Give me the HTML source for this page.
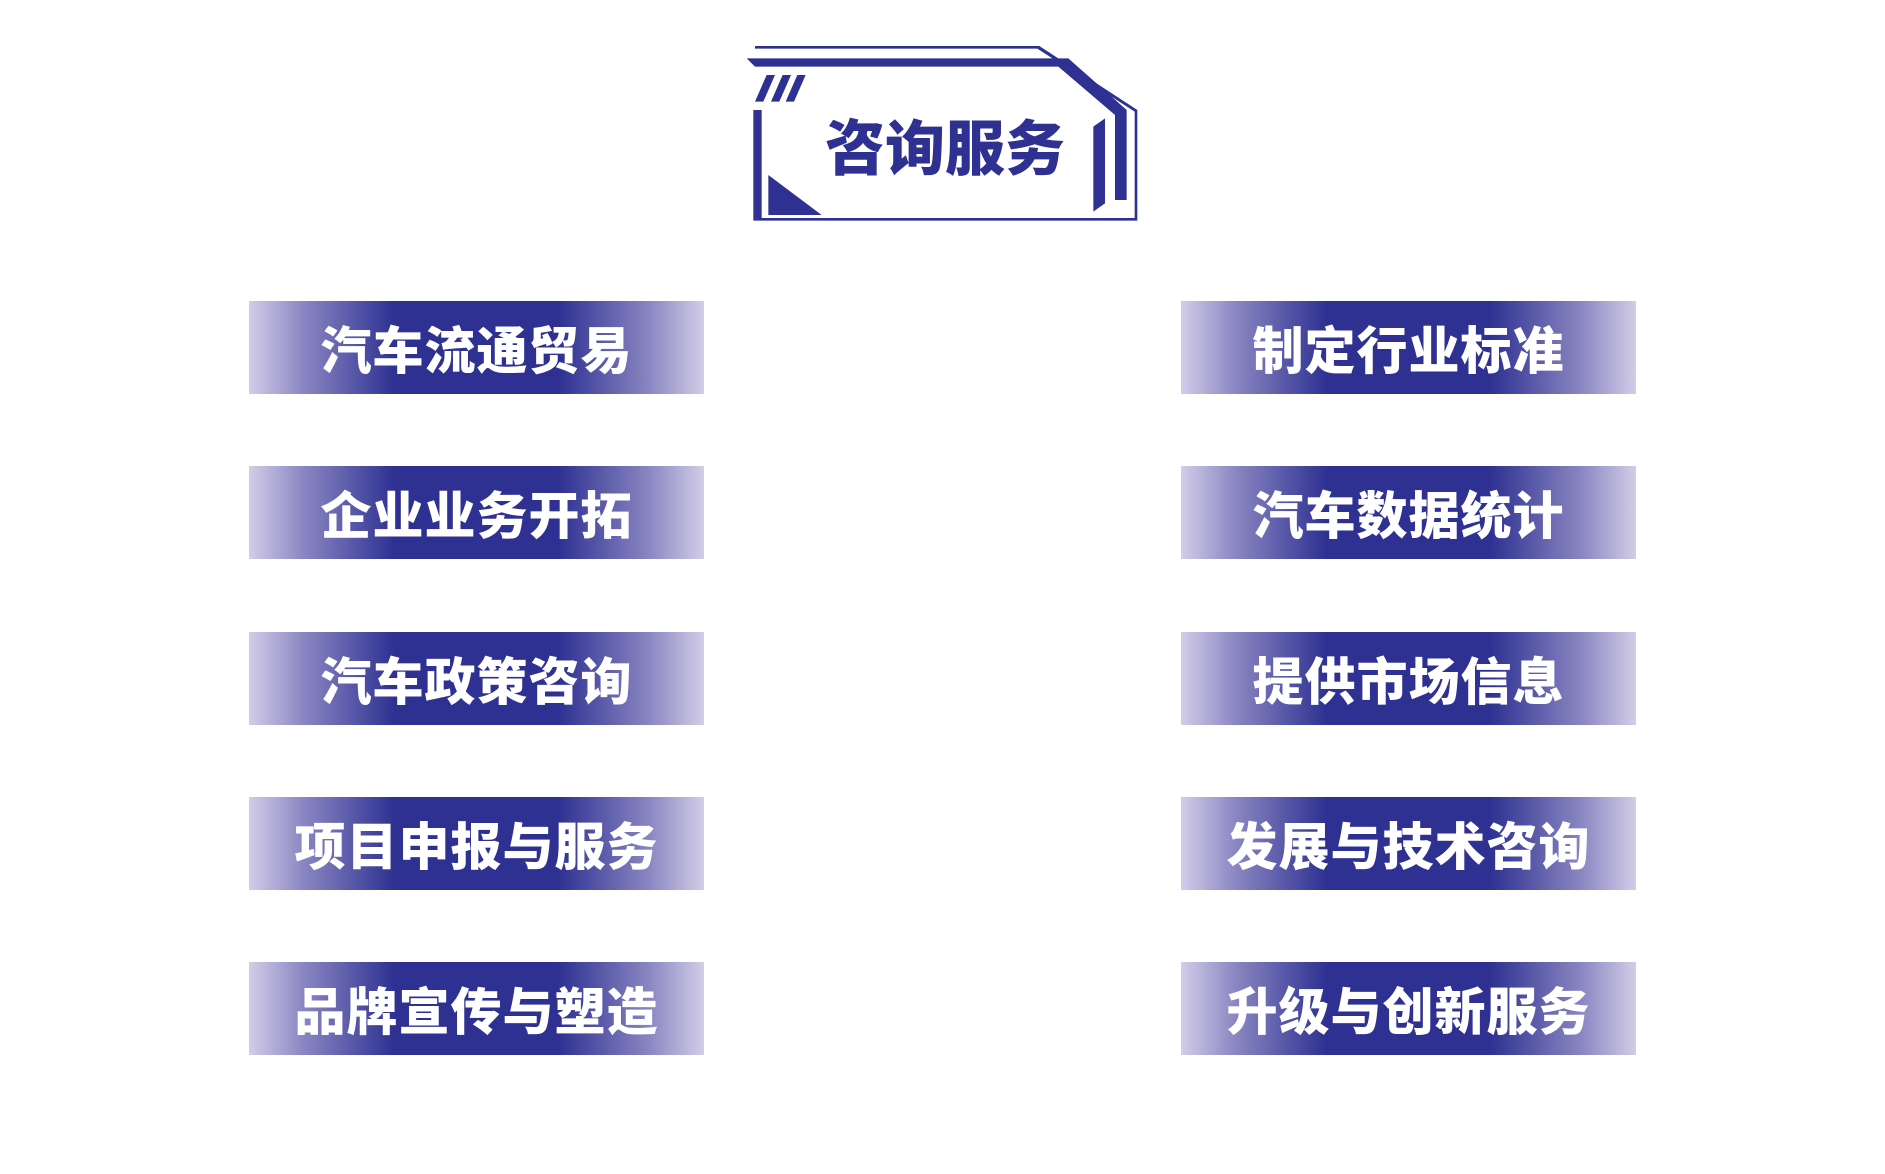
<!DOCTYPE html>
<html><head><meta charset="utf-8"><style>
body{margin:0;width:1885px;height:1174px;background:#fff;position:relative;overflow:hidden;font-family:"Liberation Sans","Noto Sans CJK SC",sans-serif}
.b{position:absolute;width:455px;height:93px;background:linear-gradient(90deg,#d2cde8 0%,#8a86c2 12%,#2e3192 32%,#2e3192 68%,#8a86c2 88%,#d2cde8 100%);color:#fff;font-weight:900;font-size:51px;line-height:101px;text-align:center;letter-spacing:1px}
.l{left:249px}.r{left:1181px}
</style></head><body>
<svg style="position:absolute;left:700px;top:20px" width="500" height="240" viewBox="0 0 1500 720">
<g fill="#2e3192">
<polygon points="165,78 1018,78 1312,270 1312,602 160,602 160,270 185,270 185,594 1304,594 1304,275 1012,86 165,86"/>
<polygon points="140,115 1105,115 1280,270 1280,540 1245,540 1245,285 1075,140 165,140"/>
<polygon points="1180,320 1215,295 1215,550 1180,575"/>
<polygon points="205,465 205,585 365,585"/>
<polygon points="200,165 225,165 190,245 165,245"/>
<polygon points="248,165 273,165 238,245 213,245"/>
<polygon points="292,165 317,165 282,245 257,245"/>
</g>
<text x="735" y="450" text-anchor="middle" font-size="180" font-weight="900" fill="#2e3192" font-family="Liberation Sans,Noto Sans CJK SC,sans-serif">咨询服务</text>
</svg>
<div class="b l" style="top:301px">汽车流通贸易</div>
<div class="b l" style="top:466px">企业业务开拓</div>
<div class="b l" style="top:632px">汽车政策咨询</div>
<div class="b l" style="top:797px">项目申报与服务</div>
<div class="b l" style="top:962px">品牌宣传与塑造</div>
<div class="b r" style="top:301px">制定行业标准</div>
<div class="b r" style="top:466px">汽车数据统计</div>
<div class="b r" style="top:632px">提供市场信息</div>
<div class="b r" style="top:797px">发展与技术咨询</div>
<div class="b r" style="top:962px">升级与创新服务</div>
</body></html>
